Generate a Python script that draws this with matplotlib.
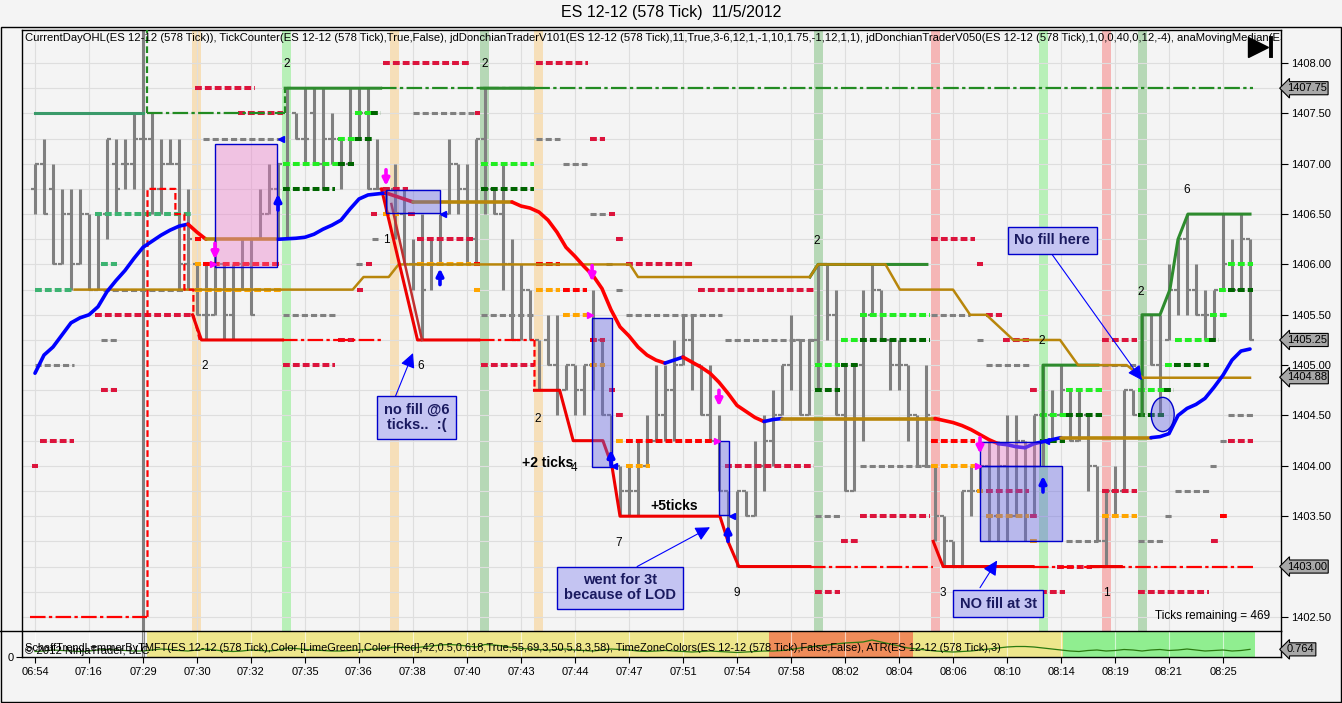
import matplotlib
matplotlib.use('Agg')
import matplotlib.pyplot as plt
from matplotlib.patches import Rectangle, Ellipse
import numpy as np

plt.rcParams['font.family'] = ['Liberation Sans', 'DejaVu Sans']
nan = np.nan

# ---------------- data ----------------
TITLE = 'ES 12-12 (578 Tick)  11/5/2012'
TOP_TEXT = ('CurrentDayOHL(ES 12-12 (578 Tick)), TickCounter(ES 12-12 (578 Tick),True,False), '
            'jdDonchianTraderV101(ES 12-12 (578 Tick),11,True,3-6,12,1,-1,10,1.75,-1,12,1,1), '
            'jdDonchianTraderV050(ES 12-12 (578 Tick),1,0,0,40,0,12,-4), anaMovingMedian(ES 12-12 (578 Tick))')
LOWER_TEXT = ('SchaffTrendLemmerByTMFT(ES 12-12 (578 Tick),Color [LimeGreen],Color [Red],42,0.5,0.618,True,55,69,3,50,5,8,3,58), '
              'TimeZoneColors(ES 12-12 (578 Tick),False,False), ATR(ES 12-12 (578 Tick),3)')

time_labels = ['06:54', '07:16', '07:29', '07:30', '07:32', '07:35', '07:36', '07:38', '07:40',
               '07:43', '07:44', '07:47', '07:51', '07:54', '07:58', '08:02', '08:04', '08:06',
               '08:10', '08:14', '08:19', '08:21', '08:25']

highs = [1407.00, 1407.25, 1407.00, 1406.75, 1406.75, 1406.75, 1406.50, 1406.50, 1407.25, 1407.25,
         1407.25, 1407.50, 1409.00, 1407.50, 1407.25, 1407.25, 1407.25, 1406.75, 1406.00, 1406.00,
         1406.25, 1406.00, 1406.00, 1406.25, 1406.25, 1406.75, 1407.00, 1407.00, 1407.75, 1407.50,
         1407.75, 1407.75, 1407.75, 1407.50, 1407.25, 1407.75, 1407.75, 1407.75, 1407.25, 1406.75,
         1407.00, 1406.75, 1406.25, 1406.50, 1406.25, 1406.50, 1407.25, 1407.00, 1407.00, 1407.25,
         1407.75, 1406.75, 1407.00, 1406.25, 1406.00, 1405.75, 1405.25, 1405.50, 1405.50, 1405.00,
         1405.00, 1405.00, 1405.75, 1405.25, 1404.50, 1404.00, 1404.00, 1404.25, 1404.50, 1405.00,
         1405.00, 1405.25, 1405.50, 1405.50, 1405.00, 1405.00, 1404.50, 1403.75, 1403.75, 1403.75,
         1404.25, 1404.50, 1404.75, 1405.00, 1405.50, 1405.25, 1405.25, 1406.00, 1406.00, 1405.75,
         1405.00, 1405.00, 1405.75, 1406.00, 1405.75, 1405.25, 1405.25, 1405.00, 1404.50, 1405.00,
         1404.00, 1403.50, 1403.25, 1403.75, 1404.00, 1404.00, 1404.25, 1404.25, 1404.50, 1404.50,
         1404.25, 1404.50, 1405.00, 1404.75, 1405.00, 1404.75, 1404.75, 1404.50, 1404.00, 1403.75,
         1404.00, 1404.75, 1404.75, 1405.50, 1405.50, 1405.50, 1406.00, 1406.25, 1406.50, 1406.00,
         1405.75, 1405.75, 1406.50, 1406.25, 1406.50, 1406.25]
lows = [1406.50, 1406.50, 1406.00, 1406.00, 1405.75, 1406.00, 1405.75, 1405.75, 1406.25, 1406.50,
        1406.75, 1406.75, 1401.50, 1406.50, 1406.50, 1407.00, 1405.75, 1405.75, 1405.50, 1405.25,
        1405.50, 1405.25, 1405.25, 1405.75, 1405.50, 1406.25, 1406.50, 1406.25, 1406.25, 1407.25,
        1407.00, 1407.00, 1406.75, 1407.00, 1406.75, 1407.00, 1407.25, 1406.75, 1406.75, 1406.50,
        1406.25, 1406.00, 1405.75, 1405.25, 1405.75, 1406.00, 1406.50, 1406.50, 1406.00, 1406.00,
        1406.50, 1406.50, 1405.75, 1405.25, 1405.25, 1405.25, 1404.75, 1405.00, 1404.50, 1404.75,
        1404.50, 1404.50, 1404.75, 1404.50, 1404.00, 1403.50, 1403.50, 1403.50, 1404.00, 1404.25,
        1404.25, 1404.25, 1405.00, 1404.75, 1404.50, 1404.25, 1403.75, 1403.25, 1403.00, 1403.50,
        1403.50, 1403.75, 1404.00, 1404.50, 1404.75, 1404.50, 1404.50, 1404.75, 1405.25, 1404.50,
        1403.75, 1403.75, 1404.25, 1405.50, 1405.25, 1404.75, 1404.75, 1404.25, 1404.00, 1404.00,
        1403.25, 1403.00, 1403.00, 1403.00, 1403.50, 1403.75, 1403.25, 1403.25, 1403.25, 1403.50,
        1403.25, 1403.50, 1404.00, 1404.25, 1404.50, 1404.25, 1404.25, 1403.75, 1403.25, 1403.00,
        1403.50, 1403.75, 1404.50, 1404.50, 1405.00, 1404.50, 1405.25, 1405.50, 1405.50, 1405.50,
        1405.25, 1405.25, 1405.75, 1405.75, 1405.75, 1405.25]
opens = [1406.75, 1407.00, 1406.75, 1406.00, 1406.50, 1406.00, 1406.50, 1405.75, 1406.50, 1407.00,
         1407.00, 1407.00, 1407.25, 1407.25, 1406.75, 1407.00, 1407.00, 1406.00, 1406.00, 1405.50,
         1405.50, 1406.00, 1405.50, 1406.00, 1406.00, 1406.25, 1406.50, 1406.75, 1407.00, 1407.50,
         1407.25, 1407.50, 1407.00, 1407.25, 1407.25, 1407.00, 1407.25, 1407.50, 1406.75, 1406.75,
         1406.75, 1406.50, 1406.00, 1406.00, 1406.00, 1406.00, 1406.50, 1407.00, 1406.75, 1406.25,
         1407.25, 1406.75, 1406.50, 1406.00, 1405.25, 1405.75, 1405.25, 1405.25, 1405.00, 1404.75,
         1405.00, 1404.75, 1405.00, 1405.25, 1404.50, 1404.00, 1403.75, 1403.75, 1404.00, 1404.25,
         1404.50, 1404.75, 1405.00, 1405.25, 1405.00, 1404.50, 1404.25, 1403.75, 1403.50, 1403.75,
         1403.50, 1404.00, 1404.25, 1404.50, 1405.00, 1405.25, 1404.50, 1405.25, 1406.00, 1405.50,
         1404.50, 1403.75, 1405.00, 1405.50, 1405.75, 1405.25, 1405.00, 1405.00, 1404.50, 1404.00,
         1404.00, 1403.50, 1403.25, 1403.00, 1403.75, 1403.75, 1404.00, 1403.50, 1404.00, 1403.50,
         1404.25, 1403.50, 1404.50, 1404.50, 1404.50, 1404.75, 1404.25, 1404.50, 1404.00, 1403.25,
         1403.75, 1403.75, 1404.75, 1404.50, 1405.50, 1405.00, 1405.25, 1405.75, 1406.25, 1405.75,
         1405.50, 1405.50, 1405.75, 1406.00, 1405.75, 1406.25]
closes = [1407.00, 1406.50, 1406.00, 1406.50, 1406.00, 1406.50, 1405.75, 1406.50, 1407.25, 1406.75,
          1407.00, 1407.25, 1407.25, 1406.75, 1407.00, 1407.00, 1406.00, 1406.25, 1405.50, 1405.50,
          1406.00, 1405.50, 1406.00, 1406.00, 1405.50, 1406.50, 1406.75, 1407.00, 1407.75, 1407.25,
          1407.25, 1407.00, 1407.25, 1407.25, 1407.00, 1407.25, 1407.50, 1406.75, 1406.75, 1406.75,
          1406.50, 1406.00, 1406.00, 1405.75, 1406.00, 1406.50, 1407.00, 1406.75, 1406.25, 1407.25,
          1406.75, 1406.50, 1406.00, 1405.25, 1405.75, 1405.25, 1404.75, 1405.00, 1404.75, 1405.00,
          1404.75, 1405.00, 1405.25, 1404.50, 1404.00, 1403.75, 1403.75, 1404.00, 1404.25, 1404.50,
          1404.75, 1405.00, 1405.25, 1405.00, 1404.50, 1404.25, 1403.75, 1403.50, 1403.75, 1403.50,
          1404.00, 1404.25, 1404.50, 1405.00, 1405.25, 1404.50, 1405.25, 1406.00, 1405.50, 1404.50,
          1403.75, 1405.00, 1405.50, 1405.75, 1405.25, 1405.00, 1405.00, 1404.50, 1404.00, 1404.50,
          1403.50, 1403.25, 1403.00, 1403.75, 1403.75, 1404.00, 1403.50, 1404.00, 1403.50, 1404.25,
          1403.50, 1404.50, 1404.50, 1404.50, 1404.75, 1404.25, 1404.50, 1404.00, 1403.25, 1403.75,
          1403.75, 1404.75, 1404.50, 1405.50, 1405.00, 1404.75, 1405.75, 1406.25, 1405.75, 1405.50,
          1405.50, 1405.75, 1406.00, 1405.75, 1406.25, 1405.25]

# anaMovingMedian, one value per bar, and its colour runs (start bar, end bar, state)
median = [1404.92, 1405.10, 1405.18, 1405.30, 1405.42, 1405.47, 1405.50, 1405.58, 1405.73, 1405.84,
          1405.94, 1406.06, 1406.17, 1406.23, 1406.29, 1406.34, 1406.38, 1406.40, 1406.32, 1406.25,
          1406.25, 1406.25, 1406.25, 1406.25, 1406.25, 1406.25, 1406.25, 1406.25, 1406.255, 1406.26,
          1406.27, 1406.30, 1406.35, 1406.39, 1406.44, 1406.55, 1406.65, 1406.69, 1406.70, 1406.71,
          1406.68, 1406.65, 1406.62, 1406.62, 1406.62, 1406.62, 1406.62, 1406.62, 1406.62, 1406.62,
          1406.62, 1406.62, 1406.62, 1406.62, 1406.58, 1406.56, 1406.52, 1406.44, 1406.32, 1406.17,
          1406.08, 1405.98, 1405.89, 1405.76, 1405.55, 1405.38, 1405.29, 1405.18, 1405.10, 1405.05,
          1405.02, 1405.05, 1405.08, 1405.03, 1404.98, 1404.92, 1404.83, 1404.72, 1404.60, 1404.54,
          1404.48, 1404.44, 1404.46, 1404.47, 1404.47, 1404.47, 1404.47, 1404.47, 1404.47, 1404.47,
          1404.47, 1404.47, 1404.47, 1404.47, 1404.47, 1404.47, 1404.47, 1404.47, 1404.47, 1404.47,
          1404.47, 1404.45, 1404.43, 1404.40, 1404.36, 1404.31, 1404.26, 1404.22, 1404.21, 1404.19,
          1404.18, 1404.22, 1404.24, 1404.26, 1404.28, 1404.28, 1404.28, 1404.28, 1404.28, 1404.28,
          1404.28, 1404.28, 1404.28, 1404.28, 1404.28, 1404.29, 1404.32, 1404.50, 1404.57, 1404.61,
          1404.67, 1404.78, 1404.90, 1405.05, 1405.14, 1405.16]
median_runs = [(0, 17, 'up'), (17, 19, 'down'), (19, 27, 'flat'), (27, 39, 'up'), (39, 42, 'down'),
               (42, 53, 'flat'), (53, 70, 'down'), (70, 72, 'up'), (72, 81, 'down'), (81, 83, 'up'),
               (83, 100, 'flat'), (100, 107, 'down'), (107, 114, 'up'), (114, 124, 'flat'),
               (124, 135, 'up')]

# Donchian trader lines (NaN separates pieces)
stop_x = [17.5, 18.5, 27.5, nan, 38.5, 42.5, 49.3, nan, 55.5, 58.3, 59.8, 63.1, 64.1, 65.0, 76.1,
          77.0, 78.2, 86.1, nan, 99.8, 100.9, 110.9, nan, 117.4, 120.7]
stop_y = [1405.5, 1405.25, 1405.25, nan, 1406.75, 1405.25, 1405.25, nan, 1404.75, 1404.75, 1404.25,
          1404.25, 1404.0, 1403.5, 1403.5, 1403.25, 1403.0, 1403.0, nan, 1403.25, 1403.0, 1403.0,
          nan, 1403.0, 1403.0]
exit_x = [39.6, 43.0]
exit_y = [1406.6, 1405.25]
stop_dd_x = [-0.5, 12.5, nan, 27.5, 38.5, nan, 49.3, 55.5, nan, 86.1, 99.8, nan, 110.9, 135.7]
stop_dd_y = [1402.5, 1402.5, nan, 1405.25, 1405.25, nan, 1405.25, 1405.25, nan, 1403.0, 1403.0,
             nan, 1403.0, 1403.0]
stop_init_x = [12.5, 12.5, 15.6, 15.6, 16.6, 16.6, 17.6, 17.6, 18.3, nan, 55.5, 55.5]
stop_init_y = [1402.5, 1406.75, 1406.75, 1406.5, 1406.5, 1405.75, 1405.75, 1405.5, 1405.25, nan,
               1405.25, 1404.75]

gold_x = [4.4, 35.3, 36.5, 39.3, 40.4, 66.1, 67.0, 86.1, 87.0, 94.5, 96.1, 102.0, 103.9, 105.7,
          108.7, 113.9, 115.9, 121.3, 123.1, 135.0]
gold_y = [1405.75, 1405.75, 1405.875, 1405.875, 1406.0, 1406.0, 1405.875, 1405.875, 1406.0, 1406.0,
          1405.75, 1405.75, 1405.5, 1405.5, 1405.25, 1405.25, 1405.0, 1405.0, 1404.875, 1404.875]

hi_x = [27.8, 38.4, nan, 49.6, 55.4, nan, 86.1, 87.0, 99.1, nan, 112.0, 112.0, 118.1, nan, 123.0,
        123.0, 125.0, 126.1, 127.0, 128.1, 135.0]
hi_y = [1407.75, 1407.75, nan, 1407.75, 1407.75, nan, 1405.875, 1406.0, 1406.0, nan, 1404.25,
        1405.0, 1405.0, nan, 1404.5, 1405.5, 1405.5, 1405.75, 1406.25, 1406.5, 1406.5]
hi_dd_x = [12.5, 27.8, nan, 38.4, 135.3]
hi_dd_y = [1407.5, 1407.5, nan, 1407.75, 1407.75]
ohl_x = [0, 12]
ohl_y = [1407.5, 1407.5]
vdash_x = [12.5, 27.8]
vdash_lo = [1407.5, 1407.5]
vdash_hi = [1408.4, 1407.75]

# dashed level segments: (from bar, to bar, price, colour key)
levels = [
    (0, 4.3, 1405.75, 'sg'), (0, 4.3, 1405.0, 'gy'), (0.6, 4.3, 1404.25, 'cr'), (-0.3, 0.3, 1404.0, 'cr'),
    (6.7, 17.4, 1406.5, 'sg'), (6.7, 17.4, 1405.5, 'cr'), (7.3, 9.1, 1406.0, 'sg'),
    (7.3, 9.1, 1405.25, 'gy'), (7.3, 9.1, 1404.75, 'cr'), (7.6, 16.5, 1405.75, 'gy'),
    (17.8, 24.4, 1407.75, 'cr'), (22.6, 27.6, 1407.5, 'cr'), (18.7, 27.2, 1407.25, 'gy'),
    (17.8, 18.5, 1406.25, 'rd'), (17.8, 27.4, 1405.75, 'or'), (17.8, 18.5, 1406.0, 'or'),
    (18.7, 27.4, 1406.0, 'rd'), (27.6, 33.7, 1407.0, 'lg'), (33.7, 35.4, 1407.0, 'dg'),
    (27.6, 33.3, 1406.75, 'dg'), (27.6, 33.3, 1405.5, 'gy'), (27.6, 33.3, 1405.0, 'cr'),
    (33.7, 35.6, 1407.25, 'lg'), (35.6, 37.4, 1407.25, 'dg'), (35.6, 37.3, 1407.5, 'lg'),
    (37.3, 38.4, 1407.5, 'dg'), (33.7, 35.4, 1405.25, 'cr'), (35.7, 36.4, 1406.0, 'gy'),
    (36.8, 37.4, 1406.0, 'cr'), (35.8, 36.4, 1405.75, 'cr'), (37.5, 38.1, 1406.25, 'gy'),
    (38.7, 41.5, 1406.75, 'cr'), (37.3, 38.0, 1406.5, 'cr'), (38.7, 40.5, 1406.5, 'or'),
    (41.5, 42.2, 1406.5, 'cr'), (38.7, 48.3, 1408.0, 'cr'), (42.0, 48.9, 1407.5, 'gy'),
    (48.9, 49.4, 1407.5, 'cr'), (42.5, 48.7, 1406.25, 'cr'), (42.5, 48.5, 1406.0, 'or'),
    (48.8, 49.4, 1406.0, 'rd'), (48.8, 49.4, 1405.75, 'or'), (49.6, 55.4, 1407.0, 'lg'),
    (49.6, 55.4, 1406.75, 'dg'), (49.6, 55.4, 1405.5, 'gy'), (49.6, 55.4, 1405.0, 'cr'),
    (55.7, 61.5, 1408.0, 'cr'), (55.7, 58.3, 1407.25, 'gy'), (58.7, 61.3, 1407.0, 'gy'),
    (61.7, 63.3, 1407.25, 'cr'), (55.7, 58.3, 1406.0, 'rd'), (55.7, 58.3, 1405.75, 'or'),
    (58.7, 61.3, 1405.75, 'rd'), (58.7, 61.5, 1405.5, 'or'), (61.7, 63.5, 1406.5, 'gy'),
    (63.8, 64.4, 1406.5, 'cr'), (64.6, 65.3, 1406.25, 'cr'), (61.7, 63.3, 1405.25, 'rd'),
    (61.7, 63.3, 1405.0, 'or'), (63.5, 64.2, 1406.0, 'gy'), (65.7, 73.3, 1406.0, 'cr'),
    (65.7, 76.3, 1405.5, 'gy'), (73.7, 86.5, 1405.75, 'cr'), (76.7, 86.5, 1405.25, 'gy'),
    (63.8, 64.4, 1404.75, 'cr'), (64.6, 65.3, 1404.5, 'cr'), (64.6, 65.3, 1404.25, 'or'),
    (65.7, 75.3, 1404.25, 'rd'), (65.7, 68.3, 1404.0, 'or'), (76.7, 86.5, 1404.0, 'cr'),
    (64.6, 65.3, 1405.75, 'gy'), (86.7, 89.4, 1403.5, 'gy'), (89.6, 91.5, 1403.25, 'cr'),
    (86.7, 89.4, 1402.75, 'cr'), (86.7, 89.4, 1405.0, 'lg'), (89.6, 91.5, 1405.0, 'dg'),
    (86.7, 89.4, 1404.75, 'dg'), (89.6, 91.5, 1405.25, 'lg'), (91.7, 99.4, 1405.25, 'dg'),
    (91.7, 99.4, 1405.5, 'lg'), (99.6, 103.9, 1405.5, 'gy'), (105.7, 107.4, 1405.5, 'cr'),
    (91.7, 99.4, 1404.0, 'gy'), (99.6, 104.6, 1404.0, 'or'), (91.7, 99.4, 1403.5, 'cr'),
    (99.6, 104.4, 1406.25, 'cr'), (104.7, 105.3, 1406.0, 'cr'), (99.6, 104.4, 1404.25, 'rd'),
    (104.7, 105.3, 1405.25, 'gy'), (107.6, 110.4, 1405.25, 'cr'), (105.7, 110.4, 1405.0, 'gy'),
    (110.6, 111.3, 1404.75, 'cr'), (104.7, 105.3, 1403.75, 'or'), (105.7, 110.4, 1403.75, 'cr'),
    (105.7, 110.4, 1403.5, 'or'), (110.6, 111.3, 1403.5, 'cr'), (110.6, 111.3, 1403.25, 'or'),
    (111.7, 114.4, 1402.75, 'cr'), (111.7, 114.6, 1404.5, 'lg'), (114.6, 118.5, 1404.5, 'dg'),
    (114.6, 118.5, 1404.75, 'lg'), (111.7, 114.4, 1404.25, 'dg'), (114.6, 118.1, 1403.25, 'gy'),
    (113.6, 117.4, 1403.0, 'cr'),
    (118.6, 122.4, 1405.25, 'cr'), (118.6, 122.4, 1405.0, 'gy'), (118.6, 122.4, 1403.75, 'cr'),
    (118.6, 122.4, 1403.5, 'or'), (122.6, 125.4, 1404.75, 'lg'), (125.4, 126.5, 1404.75, 'dg'),
    (122.6, 125.4, 1404.5, 'dg'), (122.6, 125.4, 1403.25, 'gy'), (122.6, 130.4, 1402.75, 'cr'),
    (125.6, 126.4, 1403.5, 'gy'), (125.6, 126.6, 1405.0, 'lg'), (126.6, 130.4, 1405.0, 'dg'),
    (126.7, 130.4, 1405.25, 'lg'), (130.4, 131.5, 1405.25, 'dg'), (126.7, 130.4, 1403.75, 'gy'),
    (130.6, 132.4, 1405.5, 'lg'), (130.6, 131.5, 1404.0, 'gy'), (130.7, 131.4, 1403.25, 'cr'),
    (131.5, 132.6, 1405.75, 'lg'), (132.6, 135.3, 1405.75, 'dg'), (132.6, 135.3, 1406.0, 'lg'),
    (131.7, 132.4, 1403.5, 'rd'), (131.7, 132.4, 1404.25, 'gy'), (132.6, 135.3, 1404.25, 'cr'),
    (132.6, 135.3, 1404.5, 'gy'),
]

# highlighted bars in the price panel
band_bars = [18, 28, 40, 50, 56, 87, 100, 112, 119, 123]
band_kind = ['tan', 'lgreen', 'tan', 'dgreen', 'tan', 'dgreen', 'pink', 'lgreen', 'pink', 'dgreen']

# TimeZoneColors in lower panel: edges in bars and zone kinds
zone_edges = [12.5, 81.5, 97.5, 114.2, 135.5]
zone_kind = ['yellow', 'orange', 'yellow', 'green']

atr = [0.55, 0.60, 0.70, 0.65, 0.60, 0.55, 0.60, 0.70, 0.75, 0.70, 0.65, 0.60, 0.60,
       0.70, 0.80, 0.75, 0.65, 0.60, 0.70, 0.80, 0.70, 0.60, 0.55, 0.60, 0.70, 0.65, 0.60,
       0.70, 0.90, 0.85, 0.75, 0.70, 0.65, 0.60, 0.60, 0.65, 0.70, 0.75, 0.80, 0.90, 1.00,
       0.95, 0.90, 1.00, 1.10, 1.20, 1.25, 1.20, 1.10, 1.00, 1.25, 1.20, 1.10, 0.95, 0.85,
       0.80, 0.75, 0.70, 0.75, 0.80, 0.70, 0.65, 0.60, 0.70, 0.80, 0.75, 0.70, 0.60, 0.55,
       0.60, 0.65, 0.60, 0.55, 0.50, 0.55, 0.60, 0.55, 0.50, 0.45, 0.50, 0.55, 0.60, 0.60,
       0.65, 0.75, 0.90, 1.00, 1.10, 1.20, 1.30, 1.40, 1.45, 1.50, 1.70, 1.50, 1.30, 1.10,
       0.90, 0.80, 0.70, 0.60, 0.55, 0.50, 0.55, 0.60, 0.70, 0.80, 0.90, 1.00, 1.05, 1.05,
       1.00, 0.90, 0.80, 0.70, 0.60, 0.55, 0.65, 0.70, 0.60, 0.65, 0.75, 0.70, 0.60, 0.70,
       0.75, 0.65, 0.70, 0.80, 0.70, 0.60, 0.65, 0.70, 0.60, 0.65, 0.764]

# drawn trade zones: (bar0, bar1, low, high, kind)
zones = [(20.0, 26.9, 1405.97, 1407.2, 'pink'), (39.0, 45.0, 1406.51, 1406.74, 'blue'),
         (61.9, 64.1, 1403.99, 1405.47, 'blue'), (76.0, 77.1, 1403.51, 1404.25, 'blue'),
         (105.0, 111.7, 1404.0, 1404.24, 'pink'), (105.0, 114.1, 1403.25, 1404.0, 'blue')]
circle = (125.3, 1404.51, 2.55, 0.34)

notes = ['no fill @6\nticks..  :(', 'went for 3t\nbecause of LOD', 'NO fill at 3t', 'No fill here']
note_xy = [(42.4, 1404.48), (65.0, 1402.79), (107.0, 1402.63), (113.0, 1406.24)]
note_base = [(40.0, 1404.68), (66.9, 1403.0), (105.0, 1402.79), (113.0, 1406.10)]
note_tip = [(42.0, 1405.12), (75.0, 1403.39), (106.9, 1403.06), (123.0, 1404.85)]

bold_text = ['+2 ticks', '+5ticks']
bold_xy = [(57.0, 1404.03), (71.0, 1403.60)]

count_text = ['2', '2', '1', '2', '6', '2', '4', '7', '9', '2', '3', '2', '1', '2', '6']
count_xy = [(28, 1407.99), (50, 1407.99), (39.0, 1406.24), (18.9, 1404.99), (42.9, 1404.99),
            (55.9, 1404.47), (59.9, 1403.98), (64.9, 1403.23), (78, 1402.74), (86.9, 1406.23),
            (100.9, 1402.74), (111.9, 1405.24), (119, 1402.74), (122.9, 1405.73), (128, 1406.74)]

sell_arrows = [(20, 1406.21), (39, 1406.94), (61.9, 1405.99), (76, 1404.75), (105, 1404.28)]
buy_arrows = [(27, 1406.54), (45, 1405.80), (64, 1404.00), (77, 1403.25), (112, 1403.74)]
left_marks = [(27.3, 1407.25), (45.3, 1406.5), (64.3, 1404.0), (77.4, 1403.5), (112.3, 1404.25)]
right_marks = [(19.8, 1406.0), (61.7, 1405.5), (75.8, 1404.25), (104.8, 1404.0)]

price_boxes = [1407.75, 1405.25, 1404.88, 1403.00]
atr_box = 0.764

# ---------------- styling ----------------
BG = '#f4f4f4'
LVL = {'cr': '#dc143c', 'rd': '#ff0000', 'lg': '#22ee22', 'dg': '#006400',
       'gy': '#808080', 'or': '#ffa500', 'sg': '#3cb371'}
BAND = {'tan': '#f6dfb9', 'lgreen': '#b8f0b8', 'dgreen': '#b6d8b6', 'pink': '#f5b6b6'}
ZONE = {'yellow': '#eee68c', 'orange': '#ef8c5a', 'green': '#90ee90'}
MED = {'up': '#0000ff', 'down': '#ff0000', 'flat': '#b8860b'}
RECT = {'blue': (100 / 255, 100 / 255, 225 / 255, 0.41), 'pink': (235 / 255, 120 / 255, 200 / 255, 0.40)}

W, H = 1342, 703
fig = plt.figure(figsize=(W / 100, H / 100), dpi=100, facecolor=BG)


def fx(px):
    return px / W


def fy(py):
    return 1 - py / H


ax = fig.add_axes([fx(22), fy(631), fx(1281) - fx(22), fy(30) - fy(631)], facecolor=BG)
ax2 = fig.add_axes([fx(22), fy(657), fx(1281) - fx(22), fy(631) - fy(657)], facecolor=BG)

xlim = (-1.444, 138.444)
ax.set_xlim(*xlim)
ax.set_ylim(1402.36, 1408.328)
ax2.set_xlim(*xlim)
ax2.set_ylim(0, 2.6)

idx = np.arange(len(highs))
tick_pos = np.arange(0, 6 * len(time_labels), 6)

# grid and right price axis (a boxed marker replaces the plain label at the same price)
major = np.arange(1402.5, 1408.01, 0.5)
ax.set_xticks(tick_pos)
ax.set_yticks(major)
ax.set_yticks(np.arange(1402.5, 1408.01, 0.25), minor=True)
ax.yaxis.tick_right()
ax.set_yticklabels(['' if any(abs(v - p) < 1e-6 for p in price_boxes) else '%.2f' % v for v in major])
ax.tick_params(axis='y', which='major', length=5, width=0.8, labelsize=8, pad=2)
ax.tick_params(axis='y', which='minor', length=0)
ax.tick_params(axis='x', bottom=False, labelbottom=False)
ax.grid(True, which='both', color='#dedede', lw=0.8, zorder=0)
ax.set_axisbelow(True)
for s in ['left', 'top', 'right']:
    ax.spines[s].set_color('black')
    ax.spines[s].set_linewidth(1)
ax.spines['bottom'].set_visible(False)

# highlighted bars
for b, k in zip(band_bars, band_kind):
    ax.axvspan(b - 0.5, b + 0.5, color=BAND[k], lw=0, zorder=0.5)

# OHLC bars
ax.vlines(idx, lows, highs, color='#808080', lw=2.2, zorder=2)
ax.hlines(opens, idx - 0.45, idx, color='#808080', lw=1.6, zorder=2)
ax.hlines(closes, idx, idx + 0.45, color='#808080', lw=1.6, zorder=2)

# level segments
for x0, x1, p, k in levels:
    if k == 'gy':
        ax.hlines(p, x0, x1, colors=LVL[k], lw=2.2, linestyles=[(0, (2.0, 1.0))], zorder=3)
    else:
        ax.hlines(p, x0, x1, colors=LVL[k], lw=2.9, linestyles=[(0, (1.7, 0.75))], zorder=3)

# Donchian lines
ax.plot(ohl_x, ohl_y, color='#3a9a6a', lw=2.2, zorder=3.5)
ax.plot(hi_dd_x, hi_dd_y, color='#228b22', lw=1.6, ls=(0, (7, 1.5, 1.5, 1.5)), zorder=3.5)
ax.vlines(vdash_x, vdash_lo, vdash_hi, color='#228b22', lw=1.6, linestyles=[(0, (3, 1.5))], zorder=3.5)
ax.plot(hi_x, hi_y, color='#2e8b2e', lw=2.2, zorder=3.6)
ax.plot(gold_x, gold_y, color='#b8860b', lw=1.8, zorder=3.6)
ax.plot(stop_dd_x, stop_dd_y, color='#ff0000', lw=1.6, ls=(0, (7, 1.5, 1.5, 1.5)), zorder=3.6)
ax.plot(stop_init_x, stop_init_y, color='#ff0000', lw=1.6, ls=(0, (3, 1.5)), zorder=3.6)
ax.plot(stop_x, stop_y, color='#ee0000', lw=2.2, zorder=3.7)
ax.plot(exit_x, exit_y, color='#c03030', lw=1.8, zorder=3.7)

# moving median
for a, b, state in median_runs:
    ax.plot(idx[a:b + 1], median[a:b + 1], color=MED[state], lw=2.6,
            solid_capstyle='round', zorder=4)

# trade zones
for x0, x1, lo, hi, k in zones:
    ax.add_patch(Rectangle((x0, lo), x1 - x0, hi - lo, fc=RECT[k], ec='#0000cc', lw=1, zorder=4.5))
cx, cy, cw, ch = circle
ax.add_patch(Ellipse((cx, cy), cw, ch, fc=RECT['blue'], ec='#0000cc', lw=1, zorder=4.5))

# signal arrows
for x, y in sell_arrows:
    ax.annotate('', xy=(x, y - 0.16), xytext=(x, y),
                arrowprops=dict(arrowstyle='-|>', color='#ff00ff', lw=2.6, mutation_scale=10,
                                shrinkA=0, shrinkB=0), zorder=5)
for x, y in buy_arrows:
    ax.annotate('', xy=(x, y + 0.16), xytext=(x, y),
                arrowprops=dict(arrowstyle='-|>', color='#0000ff', lw=2.6, mutation_scale=10,
                                shrinkA=0, shrinkB=0), zorder=5)
ax.plot([m[0] for m in left_marks], [m[1] for m in left_marks], ls='none', marker='<',
        ms=5, color='#0000ff', zorder=5)
ax.plot([m[0] for m in right_marks], [m[1] for m in right_marks], ls='none', marker='>',
        ms=5, color='#ff00ff', zorder=5)

# text on the chart
for t, (x, y) in zip(count_text, count_xy):
    ax.text(x, y, t, fontsize=8.5, ha='center', va='center', zorder=6)
for t, (x, y) in zip(bold_text, bold_xy):
    ax.text(x, y, t, fontsize=10, fontweight='bold', ha='center', va='center', zorder=6)

for t, xy, base, tip in zip(notes, note_xy, note_base, note_tip):
    ax.annotate('', xy=tip, xytext=base,
                arrowprops=dict(arrowstyle='-|>', color='#0000ff', lw=0.8, mutation_scale=22,
                                shrinkA=0, shrinkB=0), zorder=6)
    ax.text(xy[0], xy[1], t, fontsize=10.5, fontweight='bold', color='#1a1a60', ha='center',
            va='center', linespacing=1.1, zorder=7,
            bbox=dict(boxstyle='square,pad=0.45', fc='#c4c4f2', ec='#0000cc', lw=1))

ax.text(0.0025, 0.9945, TOP_TEXT, transform=ax.transAxes, fontsize=8.1, va='top', ha='left',
        clip_on=True, zorder=8)
ax.text(0.991, 0.025, 'Ticks remaining = 469', transform=ax.transAxes, fontsize=8.5,
        ha='right', va='center', zorder=8)
ax.plot([0.9817], [0.9715], transform=ax.transAxes, marker='>', ms=14, color='black', zorder=9,
        clip_on=False)
ax.plot([0.9917, 0.9917], [0.956, 0.986], transform=ax.transAxes, color='black', lw=2.8, zorder=9)

# price markers on the right axis
ytr = ax.get_yaxis_transform()
for p in price_boxes:
    ax.text(1.0045, p, '%.2f' % p, transform=ytr, fontsize=8, ha='left', va='center', zorder=10,
            clip_on=False,
            bbox=dict(boxstyle='larrow,pad=0.14', fc='#a8a8a8', ec='black', lw=0.8))

# ---------------- lower panel ----------------
for a, b, k in zip(zone_edges[:-1], zone_edges[1:], zone_kind):
    ax2.axvspan(a, b, color=ZONE[k], lw=0, zorder=0.5)
ax2.set_xticks(tick_pos)
ax2.set_xticklabels(time_labels)
ax2.tick_params(axis='x', length=4, width=0.8, labelsize=8, pad=3)
ax2.grid(True, axis='x', color='#ffffff', lw=0.8, alpha=0.6, zorder=0.6)
ax2.set_yticks([0])
ax2.set_yticklabels(['0'])
ax2.tick_params(axis='y', length=4, width=0.8, labelsize=8, pad=2)
ax2.plot(idx, atr, color='#2a7a10', lw=0.9, zorder=2)
big = [i for i in idx if highs[i] - lows[i] > 3]
ax2.vlines(big, 0, 2.6, color='#808080', lw=2.2, zorder=1.5)
ax2.spines['top'].set_visible(False)
for s in ['left', 'bottom', 'right']:
    ax2.spines[s].set_linewidth(1)
ax2.text(0.0025, 0.36, LOWER_TEXT, transform=ax2.transAxes, fontsize=7.9, va='center',
         ha='left', clip_on=True, zorder=5)
ax2.text(0.0025, 0.24, '\u00a9 2012 NinjaTrader, LLC', transform=ax2.transAxes, fontsize=8.1,
         va='center', ha='left', zorder=5)
ax2.text(1.0045, atr_box, '%.3f' % atr_box, transform=ax2.get_yaxis_transform(), fontsize=8,
         ha='left', va='center', clip_on=False, zorder=10,
         bbox=dict(boxstyle='larrow,pad=0.14', fc='#a8a8a8', ec='black', lw=0.8))

# frame and separators
fig.add_artist(Rectangle((fx(0.5), fy(702)), fx(1340.5), fy(27) - fy(702), transform=fig.transFigure,
                         fill=False, ec='black', lw=1))
fig.add_artist(plt.Line2D([fx(0), fx(1281)], [fy(631), fy(631)], transform=fig.transFigure,
                          color='black', lw=1))
fig.text(0.5, fy(13), TITLE, ha='center', va='center', fontsize=11.5)

fig.savefig('out.png', dpi=100, facecolor=BG)
